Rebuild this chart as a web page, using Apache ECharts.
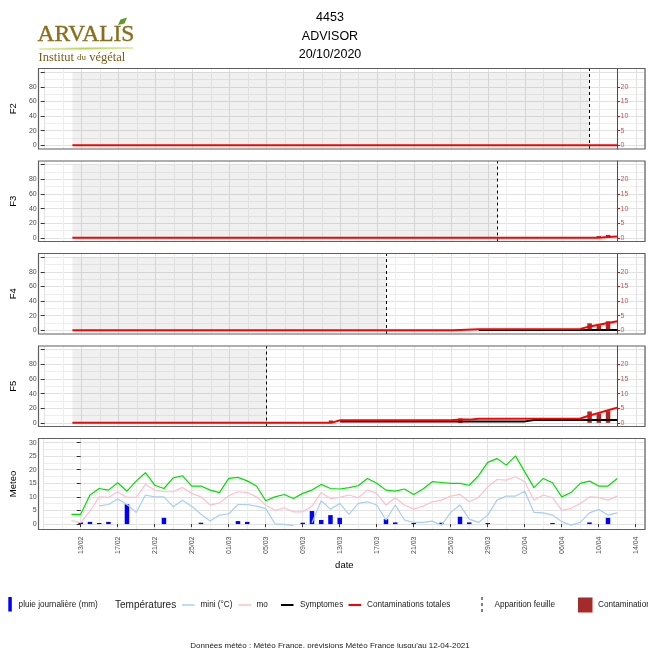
<!DOCTYPE html>
<html>
<head>
<meta charset="utf-8">
<script src="https://cdn.jsdelivr.net/npm/echarts@6/dist/echarts.min.js"></script>
<style>
html, body { margin: 0; padding: 0; background: #fff; }
#main { width: 648px; height: 648px; }
</style>
</head>
<body>
<div id="main"></div>
<script>
// dates des relevés météo (12/02 -> 12/04/2021)
var dates = ['12/02','13/02','14/02','15/02','16/02','17/02','18/02','19/02','20/02','21/02',
  '22/02','23/02','24/02','25/02','26/02','27/02','28/02','01/03','02/03','03/03',
  '04/03','05/03','06/03','07/03','08/03','09/03','10/03','11/03','12/03','13/03',
  '14/03','15/03','16/03','17/03','18/03','19/03','20/03','21/03','22/03','23/03',
  '24/03','25/03','26/03','27/03','28/03','29/03','30/03','31/03','01/04','02/04',
  '03/04','04/04','05/04','06/04','07/04','08/04','09/04','10/04','11/04','12/04'];
var xTicks = ['13/02','17/02','21/02','25/02','01/03','05/03','09/03','13/03','17/03',
  '21/03','25/03','29/03','02/04','06/04','10/04','14/04'];

var tmax = [3.6,3.6,10.7,13.1,12.5,15.2,12.1,15.8,18.9,14.3,
  13.1,17.0,17.8,14.0,14.0,12.5,11.6,16.8,17.2,15.9,
  14.0,8.6,10.0,10.9,9.4,11.3,12.5,14.6,13.1,12.9,
  13.4,14.1,16.8,15.0,12.5,12.1,12.9,10.9,12.9,15.6,
  15.3,15.0,15.0,14.3,17.8,22.7,24.1,21.7,25.1,19.2,
  13.4,16.8,15.2,10.0,11.6,15.0,15.8,14.0,14.0,16.8];
var tmoy = [1.3,0.5,4.8,10.0,9.8,11.9,9.8,9.8,14.6,12.5,
  11.9,11.9,13.5,11.3,10.0,7.0,7.8,10.4,11.9,11.6,
  10.0,7.0,5.1,6.0,4.5,4.5,6.6,11.6,9.4,9.8,
  10.7,9.7,12.5,11.3,7.0,9.7,7.0,5.5,6.6,8.2,
  8.8,10.3,10.9,8.2,9.8,13.7,16.4,16.2,17.4,15.6,
  8.8,10.7,9.7,5.1,5.8,7.6,10.0,9.8,8.8,10.3];
var tmin = [null,null,null,6.7,7.2,9.2,7.2,4.3,10.7,10.0,
  10.0,6.4,8.8,6.6,3.6,1.1,3.3,3.7,7.2,7.2,
  6.6,5.7,0.1,-0.1,-0.6,null,0.5,8.6,5.5,7.6,
  3.6,7.6,8.2,7.0,1.5,7.0,1.5,0.6,0.6,1.1,
  -0.4,4.3,7.0,1.8,0.6,3.3,8.8,10.3,10.3,12.1,
  4.3,4.1,3.3,0.9,-0.4,0.6,4.1,5.4,3.3,4.1];
var pluie = [['13/02',0.6],['14/02',0.8],['15/02',0.4],['16/02',0.8],['18/02',7.3],
  ['22/02',2.3],['26/02',0.5],['02/03',1.1],['03/03',0.8],['09/03',0.5],['10/03',4.8],
  ['11/03',1.5],['12/03',3.3],['13/03',2.3],['18/03',1.8],['19/03',0.6],['21/03',0.4],
  ['24/03',0.5],['26/03',2.7],['27/03',0.6],['29/03',0.4],['05/04',0.4],['09/04',0.6],
  ['11/04',2.3]];

// étages foliaires
var panelNames = ['F2','F3','F4','F5'];
var leafDates = ['09/04','30/03','18/03','05/03'];
var cumul = [
  [['12/02',0],['12/04',0]],
  [['12/02',0],['10/04',0],['11/04',0.3],['12/04',0.5]],
  [['12/02',0],['25/03',0],['26/03',0.15],['28/03',0.4],['08/04',0.5],['09/04',1.3],
   ['10/04',1.9],['11/04',2.5],['12/04',3.1]],
  [['12/02',0],['12/03',0],['13/03',0.9],['25/03',0.9],['26/03',1.1],['27/03',1.1],
   ['28/03',1.4],['08/04',1.5],['09/04',2.5],['10/04',3.4],['11/04',4.3],['12/04',5.2]]
];
var symptomes = [
  [],
  [],
  [['28/03',0.1],['12/04',0.1]],
  [['13/03',0.5],['02/04',0.5],['03/04',0.95],['12/04',0.95]]
];
var contam = [
  [],
  [['10/04',0.6],['11/04',1.0]],
  [['26/03',0.4],['09/04',2.4],['10/04',1.7],['11/04',3.1]],
  [['12/03',0.8],['26/03',1.5],['09/04',3.9],['10/04',3.2],['11/04',4.0]]
];
var fLabels = [0,20,40,60,80];
var fTicks = [0,20,40,60,80,100];
var fGrid = [0,10,20,30,40,50,60,70,80,90,100];
var secTicks = [0,5,10,15,20];
var meteoTicks = [0,5,10,15,20,25,30];
var meteoGrid = [0,2.5,5,7.5,10,12.5,15,17.5,20,22.5,25,27.5,30];

// jour 0 = 13/02
function dayOf(s) {
  var p = s.split('/'), d = +p[0], m = +p[1];
  return m === 2 ? d - 13 : (m === 3 ? d + 15 : d + 46);
}
function dayLabel(v) {
  var d, m;
  if (v < 16) { d = v + 13; m = 2; } else if (v < 47) { d = v - 15; m = 3; } else { d = v - 46; m = 4; }
  return (d < 10 ? '0' : '') + d + '/0' + m;
}
function pairs(arr) {
  return arr.map(function (p) { return [dayOf(p[0]), p[1]]; });
}
function daily(vals) {
  return dates.map(function (d, k) { return [dayOf(d), vals[k] == null ? '-' : vals[k]]; });
}

var LEFT = 38.5, RIGHT = 3, W = 648 - LEFT - RIGHT;
var tops = [68.5, 161, 253.5, 346, 438.5];
var heights = [80.5, 80.5, 80.5, 80.5, 91];
var XMIN = -4, XMAX = 61;
var MAJ = '#e2e2e2', MIN = '#eeeeee';
var lblColor = '#4d4d4d', tickColor = '#333';
var secColor = '#b22222';
var secOffset = LEFT + (dayOf('12/04') - XMIN) / (XMAX - XMIN) * W - (648 - RIGHT);

var grids = [], xAxes = [], yAxes = [], series = [], graphics = [];

for (var i = 0; i < 5; i++) {
  grids.push({ left: LEFT, top: tops[i], width: W, height: heights[i], show: false });
  var isMeteo = i === 4;
  xAxes.push({
    gridIndex: i, type: 'value', position: 'bottom', min: XMIN, max: XMAX, interval: 2,
    axisLine: { show: false }, axisTick: { show: false },
    axisLabel: isMeteo ? {
      rotate: 90, fontSize: 7, color: lblColor, margin: 7,
      formatter: function (v) { var s = dayLabel(v); return xTicks.indexOf(s) >= 0 ? s : ''; }
    } : { show: false },
    name: isMeteo ? 'date' : '', nameLocation: 'middle', nameGap: 31,
    nameTextStyle: { fontSize: 9.5, color: '#000' },
    splitLine: { show: true, lineStyle: { color: [MAJ, MIN], width: 1 } }
  });
  graphics.push({
    type: 'rect', z: 100, silent: true,
    shape: { x: LEFT, y: tops[i], width: W, height: heights[i] },
    style: { fill: 'none', stroke: '#5f5f5f', lineWidth: 1.2 }
  });
}
// ticks de l'axe des dates
xAxes.push({
  gridIndex: 4, type: 'value', position: 'bottom', min: XMIN, max: XMAX,
  axisLine: { show: false }, axisLabel: { show: false }, splitLine: { show: false },
  axisTick: { show: true, customValues: xTicks.map(dayOf), length: 3, lineStyle: { color: tickColor } }
});

for (var p = 0; p < 4; p++) {
  // grille + libellés
  yAxes.push({
    gridIndex: p, type: 'value', position: 'left', min: -5, max: 105,
    name: panelNames[p], nameLocation: 'middle', nameGap: 15, nameRotate: 90,
    nameTextStyle: { fontSize: 9.5, color: '#000' },
    axisLine: { show: false },
    axisTick: { show: false, customValues: fGrid },
    axisLabel: { customValues: fLabels, fontSize: 7, color: lblColor, margin: 8 },
    splitLine: { show: true, lineStyle: { color: [MAJ, MIN], width: 1 } }
  });
  // graduations
  yAxes.push({
    gridIndex: p, type: 'value', position: 'left', min: -5, max: 105,
    axisLine: { show: false }, axisLabel: { show: false }, splitLine: { show: false },
    axisTick: { show: true, customValues: fTicks, length: 4, lineStyle: { color: tickColor } }
  });
  // axe secondaire (contaminations)
  yAxes.push({
    gridIndex: p, type: 'value', position: 'right', offset: secOffset, min: -1.25, max: 26.25,
    axisLine: { show: true, lineStyle: { color: secColor, width: 1 } },
    axisTick: { show: true, customValues: secTicks, length: 3, lineStyle: { color: secColor } },
    axisLabel: { customValues: secTicks, fontSize: 7, color: '#c85858', margin: 3.5 },
    splitLine: { show: false }
  });

  var sy = 3 * p + 2;
  series.push({
    type: 'bar', name: 'Contamination', xAxisIndex: p, yAxisIndex: sy,
    data: pairs(contam[p]), barWidth: 4.5, itemStyle: { color: '#a52a2a' }, z: 3
  });
  series.push({
    type: 'line', name: 'Symptomes', xAxisIndex: p, yAxisIndex: sy,
    data: pairs(symptomes[p]), symbol: 'none', lineStyle: { color: '#000', width: 2 }, z: 4
  });
  series.push({
    type: 'line', name: 'Contaminations totales', xAxisIndex: p, yAxisIndex: sy,
    data: pairs(cumul[p]), symbol: 'none', lineStyle: { color: '#ff0000', width: 2 }, z: 5,
    markArea: {
      silent: true, itemStyle: { color: 'rgba(0,0,0,0.06)' }, label: { show: false },
      data: [[{ xAxis: dayOf(dates[0]), yAxis: 0 }, { xAxis: dayOf(leafDates[p]), yAxis: 25 }]]
    },
    markLine: {
      silent: true, symbol: ['none', 'none'], label: { show: false },
      lineStyle: { color: '#000', type: [3, 3], width: 1 },
      data: [{ xAxis: dayOf(leafDates[p]) }]
    }
  });
}

// panneau météo
yAxes.push({
  gridIndex: 4, type: 'value', position: 'left', min: -2, max: 31.5,
  name: 'Meteo', nameLocation: 'middle', nameGap: 15, nameRotate: 90,
  nameTextStyle: { fontSize: 9.5, color: '#000' },
  axisLine: { show: false },
  axisTick: { show: false, customValues: meteoGrid },
  axisLabel: { customValues: meteoTicks, fontSize: 7, color: lblColor, margin: 7 },
  splitLine: { show: true, lineStyle: { color: [MAJ, MIN], width: 1 } }
});
yAxes.push({
  gridIndex: 4, type: 'value', position: 'left', min: -2, max: 31.5,
  axisLine: { show: false }, axisLabel: { show: false }, splitLine: { show: false },
  axisTick: { show: true, customValues: meteoTicks, length: 4, lineStyle: { color: tickColor } }
});
series.push({
  type: 'bar', name: 'pluie journalière (mm)', xAxisIndex: 4, yAxisIndex: 12,
  data: pairs(pluie), barWidth: 4.5, itemStyle: { color: '#0000ff' }, z: 2
});
series.push({
  type: 'line', name: 'mini (°C)', xAxisIndex: 4, yAxisIndex: 12, data: daily(tmin),
  symbol: 'none', lineStyle: { color: '#a8cef5', width: 1.2 }, z: 3
});
series.push({
  type: 'line', name: 'moy (°C)', xAxisIndex: 4, yAxisIndex: 12, data: daily(tmoy),
  symbol: 'none', lineStyle: { color: '#ffc0cb', width: 1.2 }, z: 3
});
series.push({
  type: 'line', name: 'maxi (°C)', xAxisIndex: 4, yAxisIndex: 12, data: daily(tmax),
  symbol: 'none', lineStyle: { color: '#00e000', width: 1.2 }, z: 3
});

// logo + titre
graphics.push(
  { type: 'text', x: 37.5, y: 35, style: { text: 'ARVALIS', font: '23.5px "Liberation Serif"',
    fill: '#8a6d1c', stroke: '#8a6d1c', lineWidth: 0.4, verticalAlign: 'middle' } },
  { type: 'polygon', shape: { points: [[118, 25], [120.5, 19.5], [127, 17.5], [124.5, 23.5]] },
    style: { fill: '#5f9a2c' } },
  { type: 'line', shape: { x1: 39, y1: 49, x2: 133, y2: 48 },
    style: { stroke: new echarts.graphic.LinearGradient(0, 0, 1, 0,
      [{ offset: 0, color: '#e8f0b0' }, { offset: 0.5, color: '#b6d64a' }, { offset: 1, color: '#e8f0b0' }]),
      lineWidth: 2 } },
  { type: 'text', x: 38.5, y: 57.5, style: { text: '{a|Institut }{b|du}{a| végétal}',
    verticalAlign: 'middle', fill: '#7a5c16',
    rich: { a: { fontSize: 12.5, fontFamily: 'Liberation Serif', fill: '#7a5c16' },
            b: { fontSize: 9, fontFamily: 'Liberation Serif', fill: '#7a5c16' } } } },
  { type: 'text', x: 330, y: 18, style: { text: '4453', fontSize: 12.5, fill: '#000',
    align: 'center', verticalAlign: 'middle' } },
  { type: 'text', x: 330, y: 36.5, style: { text: 'ADVISOR', fontSize: 12.5, fill: '#000',
    align: 'center', verticalAlign: 'middle' } },
  { type: 'text', x: 330, y: 55, style: { text: '20/10/2020', fontSize: 12.5, fill: '#000',
    align: 'center', verticalAlign: 'middle' } }
);

// légende
var LY = 605;
function legText(x, t, size, w) {
  var st = { text: t, fontSize: size || 8.2, fill: '#1a1a1a', verticalAlign: 'middle' };
  if (w) { st.width = w; st.overflow = 'truncate'; st.ellipsis = ''; }
  return { type: 'text', x: x, y: LY, style: st };
}
function legLine(x, color, lw) {
  return { type: 'line', shape: { x1: x, y1: LY, x2: x + 12.5, y2: LY },
    style: { stroke: color, lineWidth: lw || 1.5 } };
}
graphics.push(
  { type: 'rect', shape: { x: 8.3, y: 597, width: 3.5, height: 14.5 }, style: { fill: '#0000ff' } },
  legText(18.6, 'pluie journalière (mm)'),
  legText(115, 'Températures', 10),
  legLine(182, '#a8cef5'),
  legText(200.5, 'mini (°C)'),
  legLine(238.5, '#ffc0cb'),
  legText(256.5, 'moyenne (°C)', 8.2, 15),
  legLine(281, '#000', 2),
  legText(300, 'Symptomes'),
  legLine(348.5, '#ff0000', 2),
  legText(367, 'Contaminations totales'),
  { type: 'line', shape: { x1: 482, y1: 597, x2: 482, y2: 612.5 },
    style: { stroke: '#000', lineWidth: 1, lineDash: [3, 3] } },
  legText(494.5, 'Apparition feuille'),
  { type: 'rect', shape: { x: 578, y: 597.5, width: 14.5, height: 15 }, style: { fill: '#a52a2a' } },
  legText(598, 'Contamination'),
  { type: 'text', x: 330, y: 646, style: {
    text: "Données météo : Météo France, prévisions Météo France jusqu'au 12-04-2021",
    fontSize: 8, fill: '#1a1a1a', align: 'center', verticalAlign: 'middle' } }
);

var myChart = echarts.init(document.getElementById('main'));
myChart.setOption({
  animation: false,
  backgroundColor: '#fff',
  textStyle: { fontFamily: 'Liberation Sans' },
  grid: grids,
  xAxis: xAxes,
  yAxis: yAxes,
  series: series,
  graphic: { elements: graphics }
});
</script>
</body>
</html>
